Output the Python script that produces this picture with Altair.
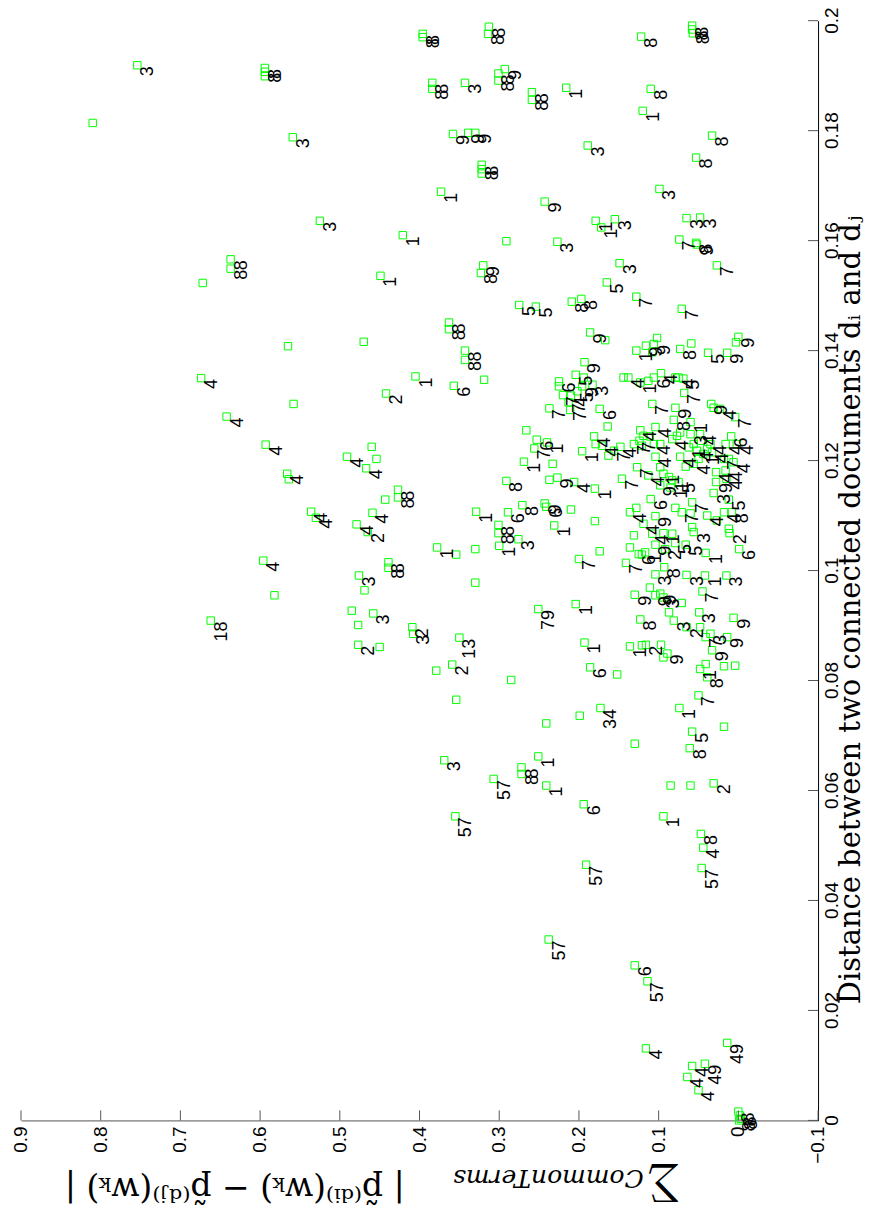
import altair as alt
import pandas as pd

# Each entry: (sum over common terms of |p_i - p_j|, distance between d_i and d_j, label)
UPPER_LEFT = [
    (0.754, 0.1919, "3"), (0.594, 0.1914, "8"), (0.594, 0.1907, "8"), (0.594, 0.1899, ""),
    (0.810, 0.1814, ""), (0.559, 0.1788, "3"), (0.525, 0.1636, "3"), (0.637, 0.1566, "8"),
    (0.637, 0.1549, "8"), (0.672, 0.1523, ""), (0.449, 0.1536, "1"), (0.565, 0.1408, ""),
    (0.470, 0.1416, ""), (0.674, 0.1350, "4"), (0.442, 0.1322, "2"), (0.558, 0.1303, ""),
    (0.642, 0.1280, "4"), (0.593, 0.1229, "4"), (0.460, 0.1225, ""), (0.491, 0.1207, "4"),
    (0.454, 0.1203, ""), (0.467, 0.1186, "4"), (0.566, 0.1176, "4"), (0.564, 0.1166, ""),
    (0.427, 0.1147, "8"), (0.427, 0.1133, "8"), (0.443, 0.1129, ""), (0.536, 0.1107, "4"),
    (0.530, 0.1096, "4"), (0.459, 0.1105, "4"), (0.479, 0.1084, "4"), (0.465, 0.1070, "2"),
    (0.596, 0.1018, "4"),
]

MID_LEFT = [
    (0.439, 0.1015, "8"), (0.439, 0.1005, "8"), (0.476, 0.0991, "3"), (0.582, 0.0955, ""),
    (0.469, 0.0964, ""), (0.485, 0.0927, ""), (0.458, 0.0922, "3"), (0.662, 0.0909, "18"),
    (0.477, 0.0901, ""), (0.477, 0.0865, "2"), (0.450, 0.0861, ""),
]

UPPER_RIGHT = [
    (0.396, 0.1976, "8"), (0.396, 0.1970, "8"), (0.313, 0.1989, "8"), (0.314, 0.1976, "8"),
    (0.122, 0.1971, "8"), (0.058, 0.1991, "8"), (0.058, 0.1984, "8"), (0.057, 0.1977, "8"),
    (0.384, 0.1887, "8"), (0.384, 0.1876, "8"), (0.343, 0.1887, "3"), (0.293, 0.1912, "9"),
    (0.301, 0.1904, "8"), (0.301, 0.1891, "8"), (0.259, 0.1870, "8"), (0.259, 0.1856, "8"),
    (0.216, 0.1878, "1"), (0.110, 0.1876, "8"), (0.120, 0.1836, "1"), (0.358, 0.1794, "9"),
    (0.339, 0.1796, "9"), (0.330, 0.1796, "9"), (0.189, 0.1773, "3"), (0.033, 0.1791, "8"),
    (0.322, 0.1738, "8"), (0.322, 0.1730, "8"), (0.322, 0.1722, ""), (0.053, 0.1751, "8"),
    (0.373, 0.1689, "1"), (0.099, 0.1694, "3"), (0.243, 0.1671, "9"), (0.421, 0.1610, "1"),
    (0.291, 0.1599, ""), (0.227, 0.1598, "3"), (0.179, 0.1636, "1"), (0.172, 0.1624, "1"),
    (0.155, 0.1639, "3"), (0.065, 0.1641, "3"), (0.048, 0.1642, "3"), (0.074, 0.1602, "7"),
    (0.053, 0.1596, "8"), (0.052, 0.1593, "9"), (0.027, 0.1555, "7"), (0.320, 0.1555, "9"),
    (0.323, 0.1541, "8"), (0.149, 0.1559, "3"), (0.165, 0.1524, "5"), (0.128, 0.1498, "7"),
    (0.071, 0.1476, "7"), (0.275, 0.1483, "5"), (0.254, 0.1480, "5"), (0.209, 0.1489, "8"),
    (0.197, 0.1494, "8"), (0.363, 0.1451, "8"), (0.363, 0.1439, "8"), (0.186, 0.1433, "9"),
]

CENTER = [
    (0.343, 0.1400, "8"), (0.343, 0.1383, "8"), (0.405, 0.1353, "1"), (0.357, 0.1336, "6"),
    (0.319, 0.1347, ""), (0.167, 0.1419, ""), (0.193, 0.1379, "9"), (0.204, 0.1356, "5"),
    (0.194, 0.1351, ""), (0.183, 0.1338, "3"), (0.225, 0.1344, "6"), (0.225, 0.1335, ""),
    (0.220, 0.1319, "7"), (0.210, 0.1318, "4"), (0.202, 0.1326, "5"), (0.196, 0.1335, "9"),
    (0.213, 0.1306, "7"), (0.237, 0.1295, "7"), (0.211, 0.1292, "7"), (0.174, 0.1294, "6"),
    (0.164, 0.1262, ""), (0.266, 0.1255, ""), (0.253, 0.1238, "6"), (0.240, 0.1233, "1"),
    (0.256, 0.1222, "7"), (0.181, 0.1244, "4"), (0.179, 0.1230, ""), (0.171, 0.1227, "4"),
    (0.196, 0.1217, "1"), (0.269, 0.1198, "1"), (0.233, 0.1194, ""), (0.237, 0.1165, ""),
    (0.227, 0.1169, "9"), (0.206, 0.1161, "4"), (0.180, 0.1149, "1"), (0.291, 0.1163, "8"),
    (0.329, 0.1107, "1"), (0.289, 0.1106, "6"), (0.271, 0.1119, "8"), (0.243, 0.1122, "9"),
    (0.241, 0.1116, "6"), (0.210, 0.1111, ""), (0.231, 0.1082, "1"), (0.180, 0.1090, ""),
    (0.301, 0.1083, "8"), (0.301, 0.1068, "8"), (0.300, 0.1045, "1"), (0.276, 0.1057, "3"),
    (0.378, 0.1042, "1"), (0.354, 0.1029, ""), (0.330, 0.1039, ""), (0.200, 0.1021, "7"),
    (0.174, 0.1035, ""), (0.330, 0.0978, ""), (0.251, 0.0930, "79"), (0.204, 0.0939, "1"),
    (0.409, 0.0897, "2"), (0.408, 0.0885, "3"), (0.350, 0.0878, "13"), (0.379, 0.0818, ""),
    (0.359, 0.0829, "2"), (0.285, 0.0801, ""), (0.354, 0.0765, ""), (0.193, 0.0869, "1"),
    (0.186, 0.0824, "6"), (0.173, 0.0750, "34"), (0.199, 0.0736, ""), (0.241, 0.0722, ""),
    (0.163, 0.1209, ""),
]

DENSE_TOP = [
    (0.102, 0.1423, ""), (0.116, 0.1409, "9"), (0.106, 0.1412, "9"), (0.128, 0.1400, "1"),
    (0.108, 0.1397, ""), (0.073, 0.1403, "8"), (0.059, 0.1413, ""), (0.038, 0.1396, "5"),
    (0.014, 0.1396, "9"), (0.000, 0.1425, "9"), (0.003, 0.1415, ""), (0.144, 0.1351, ""),
    (0.138, 0.1351, "4"), (0.123, 0.1342, "1"), (0.113, 0.1345, ""), (0.106, 0.1351, "6"),
    (0.097, 0.1359, "4"), (0.079, 0.1351, ""), (0.075, 0.1351, "4"), (0.069, 0.1349, "5"),
    (0.068, 0.1323, "7"), (0.108, 0.1303, "7"), (0.079, 0.1296, "9"), (0.081, 0.1274, "8"),
    (0.034, 0.1303, "9"), (0.031, 0.1296, ""), (0.023, 0.1294, "4"), (0.004, 0.1279, "7"),
    (0.060, 0.1270, "1"),
]

DENSE_MID = [
    (0.123, 0.1255, "4"), (0.119, 0.1245, ""), (0.124, 0.1236, "7"), (0.111, 0.1244, ""),
    (0.104, 0.1261, "4"), (0.131, 0.1230, "7"), (0.121, 0.1227, ""), (0.106, 0.1230, "4"),
    (0.098, 0.1230, ""), (0.148, 0.1225, "4"), (0.156, 0.1218, "7"), (0.083, 0.1239, "4"),
    (0.077, 0.1245, ""), (0.073, 0.1251, ""), (0.060, 0.1248, "3"), (0.048, 0.1248, "4"),
    (0.047, 0.1236, ""), (0.056, 0.1230, ""), (0.062, 0.1224, "1"), (0.052, 0.1218, "4"),
    (0.039, 0.1221, ""), (0.035, 0.1230, "4"), (0.016, 0.1230, "4"), (0.009, 0.1244, "6"),
    (0.002, 0.1230, "4"), (0.018, 0.1203, "7"), (0.012, 0.1203, ""), (0.006, 0.1197, "4"),
    (0.104, 0.1207, "4"), (0.073, 0.1207, "4"), (0.066, 0.1189, ""), (0.056, 0.1194, "4"),
    (0.050, 0.1203, ""), (0.044, 0.1212, "1"), (0.033, 0.1215, "4"), (0.127, 0.1188, "7"),
    (0.113, 0.1173, "4"), (0.098, 0.1188, ""), (0.094, 0.1176, "1"), (0.087, 0.1170, ""),
    (0.083, 0.1164, "1"), (0.075, 0.1161, "5"), (0.146, 0.1167, "7"), (0.028, 0.1179, "4"),
    (0.028, 0.1161, "9"), (0.016, 0.1182, "4"), (0.015, 0.1167, "4"), (0.098, 0.1155, "9"),
    (0.085, 0.1151, "1"), (0.031, 0.1141, "3"), (0.012, 0.1129, "5"), (0.110, 0.1130, "6"),
    (0.136, 0.1106, "4"), (0.128, 0.1114, ""), (0.104, 0.1099, "9"), (0.079, 0.1114, ""),
    (0.071, 0.1106, "7"), (0.058, 0.1124, "7"), (0.060, 0.1104, ""), (0.039, 0.1100, "4"),
    (0.027, 0.1091, ""), (0.018, 0.1106, "4"), (0.008, 0.1106, "8"), (0.058, 0.1079, ""),
    (0.119, 0.1085, "4"), (0.012, 0.1076, ""),
]

DENSE_LOW = [
    (0.131, 0.1064, ""), (0.108, 0.1067, "4"), (0.094, 0.1068, "1"), (0.083, 0.1067, ""),
    (0.056, 0.1070, "3"), (0.011, 0.1068, "2"), (0.136, 0.1042, ""), (0.125, 0.1030, "6"),
    (0.121, 0.1029, ""), (0.117, 0.1033, "1"), (0.104, 0.1047, "9"), (0.092, 0.1039, "2"),
    (0.079, 0.1050, "5"), (0.066, 0.1047, "5"), (0.041, 0.1032, "1"), (-0.001, 0.1039, "6"),
    (0.141, 0.1014, "7"), (0.104, 0.0993, "3"), (0.093, 0.1006, "8"), (0.065, 0.0992, "3"),
    (0.042, 0.0991, "1"), (0.015, 0.0991, "3"), (0.045, 0.0962, "7"), (0.130, 0.0956, "9"),
    (0.111, 0.0969, ""), (0.104, 0.0955, "9"), (0.098, 0.0958, "9"), (0.094, 0.0951, "3"),
    (0.071, 0.0941, ""), (0.087, 0.0924, ""), (0.081, 0.0909, "3"), (0.049, 0.0924, "3"),
    (0.123, 0.0911, "8"), (0.065, 0.0897, "2"), (0.048, 0.0897, ""), (0.041, 0.0879, "7"),
    (0.035, 0.0885, "3"), (0.014, 0.0879, "9"), (0.006, 0.0914, "9"), (0.136, 0.0862, "1"),
    (0.121, 0.0864, ""), (0.116, 0.0865, "2"), (0.097, 0.0865, ""), (0.089, 0.0849, "9"),
    (0.094, 0.0842, ""), (0.033, 0.0855, "9"), (0.041, 0.0830, ""), (0.048, 0.0821, "1"),
    (0.039, 0.0806, "8"), (0.018, 0.0826, ""), (0.004, 0.0827, ""), (0.152, 0.0811, ""),
    (0.050, 0.0773, "7"), (0.074, 0.0750, "1"),
]

LOWER = [
    (0.130, 0.0685, ""), (0.058, 0.0707, "5"), (0.061, 0.0677, "8"), (0.018, 0.0716, ""),
    (0.369, 0.0655, "3"), (0.251, 0.0662, "1"), (0.272, 0.0642, "8"), (0.272, 0.0630, "8"),
    (0.307, 0.0621, "57"), (0.241, 0.0609, "1"), (0.194, 0.0575, "6"), (0.355, 0.0553, "57"),
    (0.094, 0.0553, "1"), (0.085, 0.0609, ""), (0.060, 0.0609, ""), (0.031, 0.0613, "2"),
    (0.047, 0.0521, "8"), (0.044, 0.0496, "4"), (0.046, 0.0459, "57"), (0.191, 0.0465, "57"),
    (0.238, 0.0329, "57"), (0.130, 0.0282, "6"), (0.114, 0.0253, "57"), (0.116, 0.0131, "4"),
    (0.014, 0.0141, "49"), (0.058, 0.0099, "4"), (0.042, 0.0103, "49"), (0.064, 0.0079, "4"),
    (0.050, 0.0055, "4"), (0.000, 0.0016, "8"), (-0.002, 0.0009, "8"), (-0.003, 0.0003, "8"),
    (-0.001, 0.0000, "8"),
]

X_TICKS = [0.9, 0.8, 0.7, 0.6, 0.5, 0.4, 0.3, 0.2, 0.1, 0.0, -0.1]
X_TICK_LABELS = ["0.9", "0.8", "0.7", "0.6", "0.5", "0.4", "0.3", "0.2", "0.1", "0", "\u22120.1"]
Y_TICKS = [0.0, 0.02, 0.04, 0.06, 0.08, 0.1, 0.12, 0.14, 0.16, 0.18, 0.2]
Y_TICK_LABELS = ["0", "0.02", "0.04", "0.06", "0.08", "0.1", "0.12", "0.14", "0.16", "0.18", "0.2"]

Y_TITLE = "Distance between two connected documents d\u1d62 and d\u2c7c"
SIGMA = "\u2211"
SUB_TITLE = "CommonTerms"
MAIN_TITLE = "| p\u0303\u207d\u1d48\u2071\u207e(w\u2096) \u2212 p\u0303\u207d\u1d48\u02b2\u207e(w\u2096) |"

W, H = 798, 1101
TICK_FONT = 19

rows = UPPER_LEFT + MID_LEFT + UPPER_RIGHT + CENTER + DENSE_TOP + DENSE_MID + DENSE_LOW + LOWER
pts = pd.DataFrame(rows, columns=["s", "d", "lab"])
xt_df = pd.DataFrame({"s": X_TICKS, "txt": X_TICK_LABELS})
yt_df = pd.DataFrame({"d": Y_TICKS, "txt": Y_TICK_LABELS})

xscale = alt.Scale(domain=[-0.1, 0.9], reverse=True, nice=False, zero=False)
yscale = alt.Scale(domain=[0, 0.2], nice=False, zero=False)

x_axis = alt.Axis(
    orient="bottom", values=X_TICKS, title=None, grid=False, ticks=False, tickSize=0,
    labels=False, domainColor="#555555", domainWidth=1,
)
y_axis = alt.Axis(
    orient="right", values=Y_TICKS, title=None, grid=False, ticks=False, tickSize=0,
    labels=False, domainColor="black", domainWidth=1,
)

X = alt.X("s:Q", scale=xscale, axis=x_axis)
Y = alt.Y("d:Q", scale=yscale, axis=y_axis)

squares = alt.Chart(pts).mark_point(
    shape="square", filled=False, size=55, color="#00ff00", strokeWidth=1, opacity=1
).encode(x=X, y=Y)

labels = alt.Chart(pts).mark_text(
    angle=270, align="right", baseline="top", dx=-1, dy=2,
    font="Liberation Sans", fontSize=18, color="black",
).encode(x=X, y=Y, text="lab:N")

# inward tick marks
xt = alt.Chart(xt_df).mark_rule(color="#555555", strokeWidth=1).encode(
    x=X, y=alt.value(H), y2=alt.value(H - 10)
)
yt = alt.Chart(yt_df).mark_rule(color="#555555", strokeWidth=1).encode(
    y=Y, x=alt.value(W), x2=alt.value(W - 10)
)

# tick labels (rotated, reading bottom to top)
xl = alt.Chart(xt_df).mark_text(
    angle=270, align="right", baseline="middle", font="Liberation Sans",
    fontSize=TICK_FONT, color="black",
).encode(x=X, y=alt.value(H + 6), text="txt:N")
yl = alt.Chart(yt_df).mark_text(
    angle=270, align="center", baseline="top", font="Liberation Sans",
    fontSize=TICK_FONT, color="black",
).encode(y=Y, x=alt.value(W + 5), text="txt:N")

ytitle = alt.Chart(pd.DataFrame({"t": [Y_TITLE]})).mark_text(
    angle=270, align="center", baseline="middle", font="DejaVu Serif", fontSize=29, color="black"
).encode(text="t:N", x=alt.value(831), y=alt.value(590))

sigma = alt.Chart(pd.DataFrame({"t": [SIGMA]})).mark_text(
    angle=180, align="center", baseline="middle", font="DejaVu Serif", fontSize=42, color="black"
).encode(text="t:N", x=alt.value(643), y=alt.value(1166))

sub = alt.Chart(pd.DataFrame({"t": [SUB_TITLE]})).mark_text(
    angle=180, align="center", baseline="middle", font="DejaVu Serif", fontStyle="italic",
    fontSize=25, color="black"
).encode(text="t:N", x=alt.value(528), y=alt.value(1159))

main = alt.Chart(pd.DataFrame({"t": [MAIN_TITLE]})).mark_text(
    angle=180, align="center", baseline="middle", font="DejaVu Serif", fontSize=33, color="black"
).encode(text="t:N", x=alt.value(214), y=alt.value(1169))

chart = alt.layer(squares, labels, xt, yt, xl, yl, ytitle, sigma, sub, main).properties(
    width=W, height=H,
    padding={"left": 13, "top": 12, "right": 52, "bottom": 93},
    autosize=alt.AutoSizeParams(type="none"),
    background="white",
).configure_view(stroke=None)

chart.save("out.html", embed_options={"renderer": "svg", "actions": False})
